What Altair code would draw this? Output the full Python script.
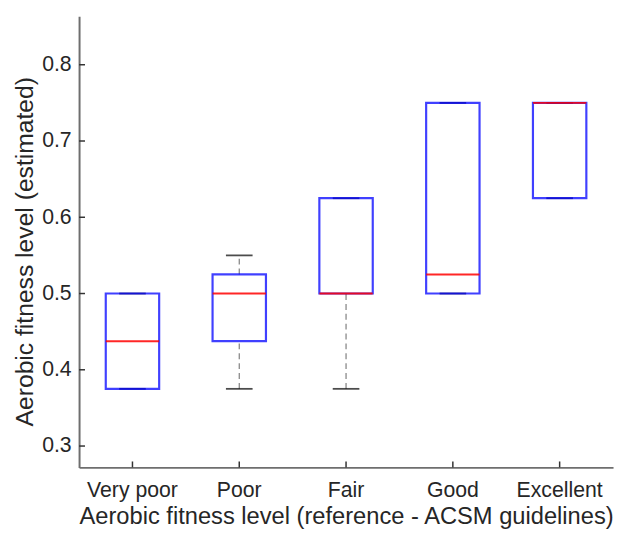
import altair as alt
import pandas as pd

categories = ["Very poor", "Poor", "Fair", "Good", "Excellent"]
q1 = [0.375, 0.4375, 0.5, 0.5, 0.625]
median = [0.4375, 0.5, 0.5, 0.525, 0.75]
q3 = [0.5, 0.525, 0.625, 0.75, 0.75]
lower = [0.375, 0.375, 0.375, 0.5, 0.625]
upper = [0.5, 0.55, 0.625, 0.75, 0.75]
y_ticks = [0.3, 0.4, 0.5, 0.6, 0.7, 0.8]

df = pd.DataFrame({"cat": categories, "q1": q1, "median": median, "q3": q3,
                   "lower": lower, "upper": upper})
ydf = pd.DataFrame({"v": y_ticks})
xdf = pd.DataFrame({"cat": categories})

W, H = 541, 457
FONT = "Liberation Sans"
TXT = "#262626"
AX = "#6e6e6e"

xscale = alt.Scale(type="band", domain=categories, paddingInner=0, paddingOuter=0)
yscale = alt.Scale(domain=[0.272, 0.8635], nice=False, zero=False)

xaxis = alt.Axis(title="Aerobic fitness level (reference - ACSM guidelines)",
                 ticks=False, tickSize=0, labelAngle=0, labelFont=FONT, labelFontSize=21.5,
                 labelColor=TXT, labelBaseline="alphabetic", labelPadding=29,
                 titleFont=FONT, titleFontSize=24, titleFontWeight="normal", titleColor=TXT,
                 titleBaseline="alphabetic", titleY=57,
                 domainColor=AX, domainWidth=2, grid=False)
yaxis = alt.Axis(title="Aerobic fitness level (estimated)", values=y_ticks, format=".1f",
                 ticks=False, tickSize=0, labelFont=FONT, labelFontSize=21.5, labelColor=TXT,
                 labelPadding=8, titleFont=FONT, titleFontSize=25, titleFontWeight="normal",
                 titleColor=TXT, titleBaseline="alphabetic", titleX=-47, titleY=238,
                 titleAngle=-90, titleAlign="center",
                 domainColor=AX, domainWidth=2, grid=False)

X = alt.X("cat:N", scale=xscale, axis=xaxis, sort=categories)

def Y(field):
    return alt.Y(f"{field}:Q", scale=yscale, axis=yaxis)

base = alt.Chart(df)

whisk_hi = base.mark_rule(color="#7f7f7f", strokeDash=[6, 4], strokeWidth=1.2).encode(
    x=X, y=Y("q3"), y2="upper:Q")
whisk_lo = base.mark_rule(color="#7f7f7f", strokeDash=[6, 4], strokeWidth=1.2).encode(
    x=X, y=Y("lower"), y2="q1:Q")
cap_hi = base.mark_tick(color="black", size=27, thickness=1.8).encode(x=X, y=Y("upper"))
cap_lo = base.mark_tick(color="black", size=27, thickness=1.8).encode(x=X, y=Y("lower"))
box = base.mark_bar(fill="transparent", stroke="#0000ff", strokeWidth=2.2, strokeOpacity=0.75,
                    width=alt.RelativeBandSize(0.5)).encode(x=X, y=Y("q1"), y2="q3:Q")
med = base.mark_tick(color="#ff0000", size=54, thickness=2, opacity=0.85).encode(
    x=X, y=Y("median"))

ytick = alt.Chart(ydf).mark_rule(color="#333333", strokeWidth=1.5).encode(
    y=Y("v"), x=alt.value(0), x2=alt.value(6))
xtick = alt.Chart(xdf).mark_rule(color="#333333", strokeWidth=1.5).encode(
    x=X, y=alt.value(H), y2=alt.value(H - 6))

chart = alt.layer(whisk_hi, whisk_lo, cap_hi, cap_lo, box, med, ytick, xtick).properties(
    width=W, height=H,
    autosize=alt.AutoSizeParams(type="none"),
    padding={"left": 72, "top": 5, "right": 3, "bottom": 60},
    background="white",
).configure_view(stroke=None)

chart.save("out.html", embed_options={"renderer": "svg", "actions": False})
